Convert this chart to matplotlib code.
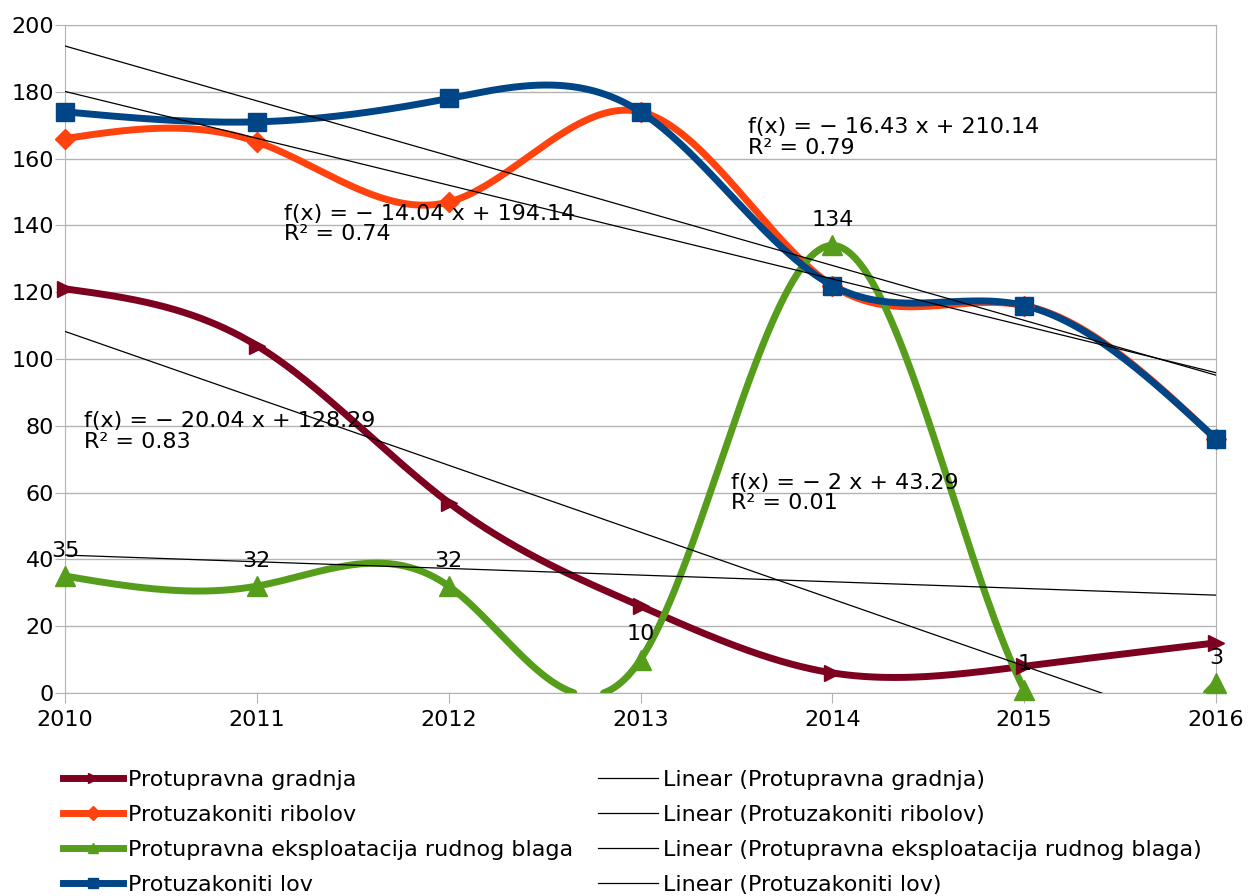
import numpy as np
import matplotlib
matplotlib.use('Agg')
import matplotlib.pyplot as plt
from matplotlib.lines import Line2D

plt.rcParams['font.family'] = ['DejaVu Sans']

years = [2010, 2011, 2012, 2013, 2014, 2015, 2016]
gradnja = [121, 104, 57, 26, 6, 8, 15]
ribolov = [166, 165, 147, 174, 122, 116, 76]
eksploatacija = [35, 32, 32, 10, 134, 1, 3]
lov = [174, 171, 178, 174, 122, 116, 76]

names = ['Protupravna gradnja', 'Protuzakoniti ribolov',
         'Protupravna eksploatacija rudnog blaga', 'Protuzakoniti lov']
colors = ['#7e0021', '#ff420e', '#579d1c', '#004586']
markers = ['>', 'D', '^', 's']
msizes = [12, 10, 14, 13]

# equation label positions (x in years, y in data units, top-left anchor)
eq_pos = [(2010.10, 84.5), (2011.14, 146.5), (2013.47, 66.0), (2013.56, 172.5)]
FS = 16


def natural_spline(x, y, xs):
    x = np.asarray(x, float)
    y = np.asarray(y, float)
    n = len(x)
    h = np.diff(x)
    A = np.zeros((n, n))
    b = np.zeros(n)
    A[0, 0] = 1
    A[-1, -1] = 1
    for i in range(1, n - 1):
        A[i, i - 1] = h[i - 1]
        A[i, i] = 2 * (h[i - 1] + h[i])
        A[i, i + 1] = h[i]
        b[i] = 6 * ((y[i + 1] - y[i]) / h[i] - (y[i] - y[i - 1]) / h[i - 1])
    M = np.linalg.solve(A, b)
    idx = np.clip(np.searchsorted(x, xs) - 1, 0, n - 2)
    x0, x1 = x[idx], x[idx + 1]
    hh = x1 - x0
    t0, t1 = x1 - xs, xs - x0
    return (M[idx] * t0 ** 3 / (6 * hh) + M[idx + 1] * t1 ** 3 / (6 * hh)
            + (y[idx] / hh - M[idx] * hh / 6) * t0
            + (y[idx + 1] / hh - M[idx + 1] * hh / 6) * t1)


fig = plt.figure(figsize=(12.53, 8.96), dpi=100)
ax = fig.add_axes([0.0519, 0.2266, 0.9186, 0.7455])

xs = np.linspace(years[0], years[-1], 1200)
series = [gradnja, ribolov, eksploatacija, lov]
xi = np.arange(1, len(years) + 1)

for vals, name, c, m, ms in zip(series, names, colors, markers, msizes):
    ys = natural_spline(years, vals, xs)
    ys[ys < 0] = np.nan
    ax.plot(xs, ys, color=c, lw=5, solid_capstyle='round', zorder=3)
    ax.plot(years, vals, ls='none', marker=m, ms=ms, color=c, zorder=4, clip_on=False)

for vals, (ex, ey) in zip(series, eq_pos):
    k, d = np.polyfit(xi, vals, 1)
    pred = k * xi + d
    r2 = 1 - np.sum((np.array(vals) - pred) ** 2) / np.sum((np.array(vals) - np.mean(vals)) ** 2)
    ax.plot(years, k * xi + d, color='black', lw=0.9, zorder=5)
    ks = ('%.2f' % abs(k)).rstrip('0').rstrip('.')
    ax.text(ex, ey, 'f(x) = \u2212 %s x + %.2f\nR\u00b2 = %.2f' % (ks, d, r2),
            fontsize=FS, va='top', ha='left', linespacing=1.05, zorder=6)

for x, v in zip(years, eksploatacija):
    ax.annotate(str(v), (x, v), xytext=(0, 11), textcoords='offset points',
                ha='center', va='bottom', fontsize=FS, zorder=6)

ax.set_xlim(years[0], years[-1])
ax.set_ylim(0, 200)
ax.set_xticks(years)
ax.set_yticks(range(0, 201, 20))
ax.grid(axis='y', color='#b3b3b3', lw=1)
ax.set_axisbelow(True)
for s in ax.spines.values():
    s.set_color('#b3b3b3')
ax.tick_params(colors='#b3b3b3', labelcolor='black', labelsize=FS, length=7, direction='out')
ax.tick_params(axis='x', pad=5)
ax.tick_params(axis='y', pad=1)

left_handles = [Line2D([], [], color=c, lw=5, marker=m, ms=7)
                for c, m in zip(colors, markers)]
right_handles = [Line2D([], [], color='black', lw=0.9) for _ in names]

leg_kw = dict(frameon=False, fontsize=FS, handlelength=2.7, handletextpad=0.25,
              labelspacing=0.68, borderpad=0, borderaxespad=0, loc='upper left')
fig.legend(left_handles, names, bbox_to_anchor=(0.05, 0.141), **leg_kw)
fig.legend(right_handles, ['Linear (%s)' % n for n in names],
           bbox_to_anchor=(0.477, 0.141), **leg_kw)

fig.savefig('out.png', dpi=100)
